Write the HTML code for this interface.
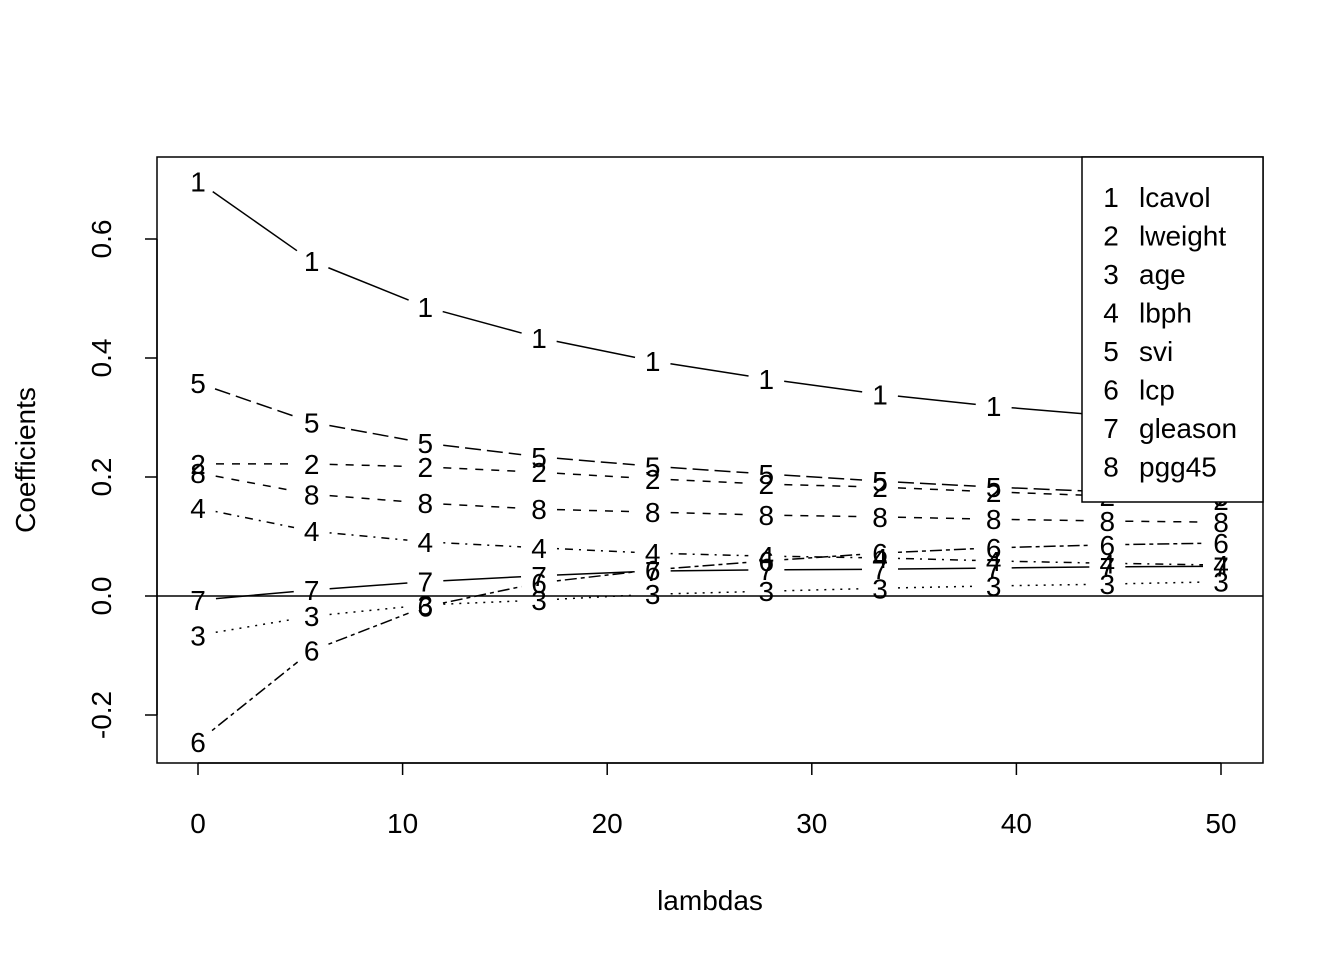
<!DOCTYPE html>
<html><head><meta charset="utf-8"><style>
body{margin:0;background:#fff}
svg text{font-family:"Liberation Sans",Arial,sans-serif;fill:#000}
</style></head><body>
<svg id="chart" width="1344" height="960" viewBox="0 0 1344 960" xmlns="http://www.w3.org/2000/svg">
<rect width="1344" height="960" fill="#fff"/>
<g id="marks"></g>
<line x1="157" x2="1263" y1="596" y2="596" stroke="#000" stroke-width="1.5"/>
<rect x="157" y="157" width="1106" height="606" fill="none" stroke="#000" stroke-width="1.5"/>
<g id="axes"></g>
<text x="710" y="910" font-size="28" text-anchor="middle">lambdas</text>
<text transform="translate(35,460) rotate(-90)" font-size="28" text-anchor="middle">Coefficients</text>
<g id="legend"></g>
</svg>
<script>
const lambdas=[0,5.556,11.111,16.667,22.222,27.778,33.333,38.889,44.444,50];
const names=["lcavol","lweight","age","lbph","svi","lcp","gleason","pgg45"];
const s1=[0.697,0.563,0.486,0.434,0.395,0.365,0.339,0.319,0.303,0.29];
const s2=[0.222,0.222,0.217,0.208,0.197,0.188,0.183,0.175,0.168,0.161];
const s3=[-0.066,-0.034,-0.015,-0.007,0.003,0.008,0.013,0.017,0.02,0.024];
const s4=[0.148,0.109,0.091,0.081,0.072,0.067,0.064,0.059,0.055,0.052];
const s5=[0.358,0.292,0.257,0.234,0.218,0.205,0.193,0.183,0.175,0.168];
const s6=[-0.245,-0.092,-0.018,0.022,0.044,0.059,0.072,0.081,0.086,0.089];
const s7=[-0.007,0.010,0.024,0.034,0.042,0.044,0.045,0.047,0.049,0.05];
const s8=[0.207,0.171,0.156,0.146,0.141,0.136,0.133,0.129,0.126,0.124];
const xTicks=[0,10,20,30,40,50];
const yTicks=[-0.2,0.0,0.2,0.4,0.6];
const series=[s1,s2,s3,s4,s5,s6,s7,s8];
const dashes=["none","8,8","2,6","2,6,8,6","16,6","4,4,12,4","none","8,8"];
const NS="http://www.w3.org/2000/svg";
const X=v=>198+v*20.46, Y=v=>596-v*595;
function mk(tag,parent,attrs){const e=document.createElementNS(NS,tag);for(const k in attrs)e.setAttribute(k,attrs[k]);parent.appendChild(e);return e;}
const marks=document.getElementById('marks');
series.forEach((s,i)=>{
  for(let j=0;j<s.length-1;j++){
    const x1=X(lambdas[j]),y1=Y(s[j]),x2=X(lambdas[j+1]),y2=Y(s[j+1]);
    const dx=x2-x1,dy=y2-y1,L=Math.hypot(dx,dy),g=18;
    const l=mk('line',marks,{x1:x1+dx*g/L,y1:y1+dy*g/L,x2:x2-dx*g/L,y2:y2-dy*g/L,stroke:'#000','stroke-width':1.5,'stroke-dasharray':dashes[i]});
    
    
  }
  s.forEach((v,j)=>{
    const t=mk('text',marks,{x:X(lambdas[j]),y:Y(v)+10,'font-size':28,'text-anchor':'middle'});
    t.textContent=String(i+1);
    
    
  });
});
const axes=document.getElementById('axes');
const xa=mk('line',axes,{x1:X(xTicks[0]),x2:X(xTicks[xTicks.length-1]),y1:763,y2:763,stroke:'#000','stroke-width':1.5});


xTicks.forEach(v=>{
  const tk=mk('line',axes,{x1:X(v),x2:X(v),y1:763,y2:775,stroke:'#000','stroke-width':1.5});
  
  
  const t=mk('text',axes,{x:X(v),y:833,'font-size':28,'text-anchor':'middle'});
  t.textContent=String(v);
  
  
});
const ya=mk('line',axes,{x1:157,x2:157,y1:Y(yTicks[0]),y2:Y(yTicks[yTicks.length-1]),stroke:'#000','stroke-width':1.5});


yTicks.forEach(v=>{
  const tk=mk('line',axes,{x1:145,x2:157,y1:Y(v),y2:Y(v),stroke:'#000','stroke-width':1.5});
  
  
  const t=mk('text',axes,{transform:'translate(111,'+Y(v)+') rotate(-90)','font-size':28,'text-anchor':'middle'});
  t.textContent=v.toFixed(1);
  
  
});
const lg=document.getElementById('legend');
const lb=mk('rect',lg,{x:1082,y:157,width:181,height:345,fill:'#fff',stroke:'#000','stroke-width':1.5});


names.forEach((n,i)=>{
  const y=207+i*38.5;
  const a=mk('text',lg,{x:1111,y:y,'font-size':28,'text-anchor':'middle'});
  a.textContent=String(i+1);
  
  
  const b=mk('text',lg,{x:1139,y:y,'font-size':28});
  b.textContent=n;
  
  
});
</script>
</body></html>
